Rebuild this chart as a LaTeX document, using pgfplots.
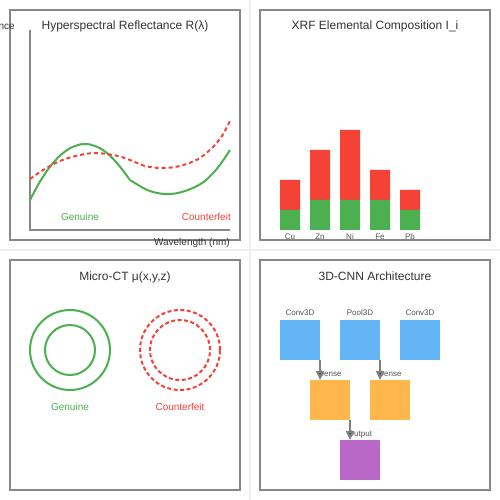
\documentclass[border=0pt]{standalone}
\usepackage{pgfplots}
\pgfplotsset{compat=1.18}
\usepackage{fontspec}
\setmainfont{Liberation Sans}
\usetikzlibrary{arrows.meta}
\definecolor{cgreen}{HTML}{4CAF50}
\definecolor{cred}{HTML}{F44336}
\definecolor{cblue}{HTML}{64B5F6}
\definecolor{corange}{HTML}{FFB74D}
\definecolor{cpurple}{HTML}{BA68C8}
\definecolor{cframe}{HTML}{888888}
\definecolor{csep}{HTML}{EEEEEE}
\definecolor{ctext}{HTML}{333333}
\definecolor{csmall}{HTML}{555555}
\newcommand\tfont{\fontsize{12}{14}\selectfont}
\newcommand\lfont{\fontsize{10}{12}\selectfont}
\newcommand\sfont{\fontsize{8}{9}\selectfont}
\begin{document}
\begin{tikzpicture}[x=1pt,y=1pt]
\path[use as bounding box, clip] (0,0) rectangle (500,500);
\fill[white] (0,0) rectangle (500,500);
\begin{axis}[at={(0,0)}, anchor=south west, scale only axis,
  width=500pt, height=500pt, xmin=0, xmax=500, ymin=0, ymax=500,
  y dir=reverse, hide axis, clip=false]
% separators
\draw[csep, line width=2pt] (axis cs:250,0) -- (axis cs:250,500);
\draw[csep, line width=2pt] (axis cs:0,250) -- (axis cs:500,250);
% frames
\draw[cframe, line width=1.8pt] (axis cs:10,10) rectangle (axis cs:240,240);
\draw[cframe, line width=1.8pt] (axis cs:260,10) rectangle (axis cs:490,240);
\draw[cframe, line width=1.8pt] (axis cs:10,260) rectangle (axis cs:240,490);
\draw[cframe, line width=1.8pt] (axis cs:260,260) rectangle (axis cs:490,490);
% titles
\node[anchor=base, text=ctext, inner sep=0] at (axis cs:125,30) {\tfont Hyperspectral Reflectance R(λ)};
\node[anchor=base, text=ctext, inner sep=0] at (axis cs:375,30) {\tfont XRF Elemental Composition I\_i};
\node[anchor=base, text=ctext, inner sep=0] at (axis cs:125,280) {\tfont Micro-CT μ(x,y,z)};
\node[anchor=base, text=ctext, inner sep=0] at (axis cs:375,280) {\tfont 3D-CNN Architecture};
% panel 1 axes
\draw[cframe, line width=2pt] (axis cs:30,30) -- (axis cs:30,230) -- (axis cs:230,230);
\node[anchor=base east, text=ctext, inner sep=0] at (axis cs:15,30) {\lfont Reflectance};
\node[anchor=base east, text=ctext, inner sep=0] at (axis cs:230,245) {\lfont Wavelength (nm)};
% spectra
\addplot[draw=cgreen, line width=2pt, smooth, no marks] coordinates {
(30,200) (40,181.5) (50,166.7) (60,155.6) (70,148.2) (80,144.5) (85,144) (90,144.5) (100,148.2) (110,155.6) (120,166.7) (130,180)};
\addplot[draw=cgreen, line width=2pt, smooth, no marks] coordinates {
(130,180) (145,189) (155,192.5) (165,194) (175,193.5) (185,191) (195,187) (205,181) (215,171) (222,162) (230,150)};
\addplot[draw=cred, line width=2pt, smooth, no marks, dash pattern=on 4pt off 3pt] coordinates {
(30,179) (40,172) (50,166) (60,161) (70,157.5) (85,154) (97,153) (110,154.5) (120,156.5) (130,160) (145,166) (160,168) (175,167) (188,163.5) (200,158) (213,147) (222,136) (230,121)};
\node[anchor=base, text=cgreen, inner sep=0] at (axis cs:80,220) {\lfont Genuine};
\node[anchor=base east, text=cred, inner sep=0] at (axis cs:231,220) {\lfont Counterfeit};
% micro-CT
\draw[cgreen, line width=2pt] (axis cs:70,350) circle[radius=40pt];
\draw[cgreen, line width=2pt] (axis cs:70,350) circle[radius=25pt];
\draw[cred, line width=2pt, dash pattern=on 4pt off 2.5pt] (axis cs:180,350) circle[radius=40pt];
\draw[cred, line width=2pt, dash pattern=on 4pt off 2.5pt] (axis cs:180,350) circle[radius=30pt];
\node[anchor=base, text=cgreen, inner sep=0] at (axis cs:70,410) {\lfont Genuine};
\node[anchor=base, text=cred, inner sep=0] at (axis cs:180,410) {\lfont Counterfeit};
% CNN
\fill[cblue] (axis cs:280,320) rectangle (axis cs:320,360);
\fill[cblue] (axis cs:340,320) rectangle (axis cs:380,360);
\fill[cblue] (axis cs:400,320) rectangle (axis cs:440,360);
\fill[corange] (axis cs:310,380) rectangle (axis cs:350,420);
\fill[corange] (axis cs:370,380) rectangle (axis cs:410,420);
\fill[cpurple] (axis cs:340,440) rectangle (axis cs:380,480);
\node[anchor=base, text=csmall, inner sep=0] at (axis cs:300,315) {\sfont Conv3D};
\node[anchor=base, text=csmall, inner sep=0] at (axis cs:360,315) {\sfont Pool3D};
\node[anchor=base, text=csmall, inner sep=0] at (axis cs:420,315) {\sfont Conv3D};
\node[anchor=base, text=csmall, inner sep=0] at (axis cs:330,376) {\sfont Dense};
\node[anchor=base, text=csmall, inner sep=0] at (axis cs:390,376) {\sfont Dense};
\node[anchor=base, text=csmall, inner sep=0] at (axis cs:360,436) {\sfont Output};
\draw[draw=gray, line width=2pt, -{Triangle[length=9pt,width=8pt,fill=ctext]}] (axis cs:320,360) -- (axis cs:320,380);
\draw[draw=gray, line width=2pt, -{Triangle[length=9pt,width=8pt,fill=ctext]}] (axis cs:380,360) -- (axis cs:380,380);
\draw[draw=gray, line width=2pt, -{Triangle[length=9pt,width=8pt,fill=ctext]}] (axis cs:350,420) -- (axis cs:350,440);
\end{axis}
% XRF bars
\begin{axis}[at={(260,260)}, anchor=south west, scale only axis,
  width=230pt, height=230pt, xmin=0, xmax=230, ymin=-10, ymax=220,
  ybar stacked, bar width=20,
  axis line style={draw=none}, tick style={draw=none}, ytick=\empty,
  xtick={30,60,90,120,150}, xticklabels={Cu,Zn,Ni,Fe,Pb},
  xticklabel style={anchor=base, inner sep=0, text=csmall, font=\sfont, yshift=0pt}]
\addplot[fill=cgreen, draw=none] coordinates {(30,20) (60,30) (90,30) (120,30) (150,20)};
\addplot[fill=cred, draw=none] coordinates {(30,30) (60,50) (90,70) (120,30) (150,20)};
\end{axis}
\end{tikzpicture}
\end{document}
